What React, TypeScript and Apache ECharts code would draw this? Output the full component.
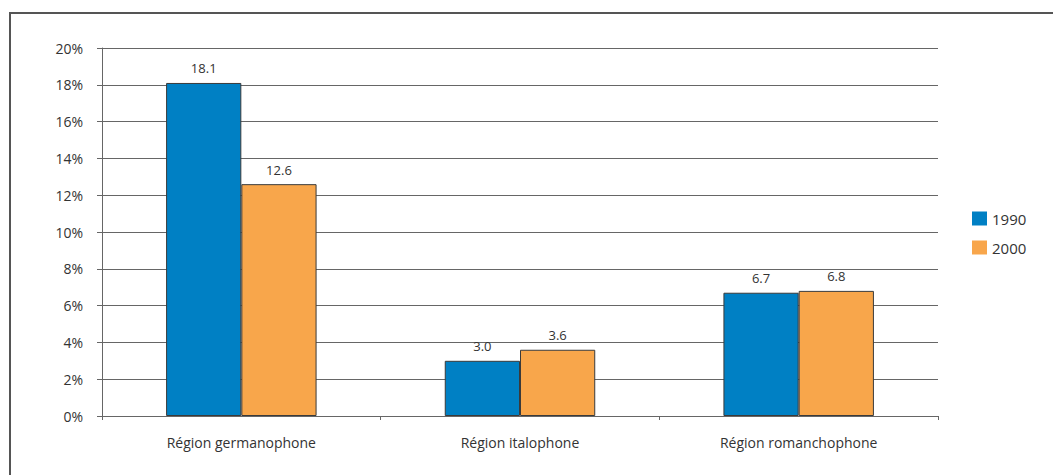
import React, { useEffect, useRef } from "react";
import * as echarts from "echarts";

const categories = ["Région germanophone", "Région italophone", "Région romanchophone"];
const series1990 = [18.1, 3.0, 6.7];
const series2000 = [12.6, 3.6, 6.8];
const seriesNames = ["1990", "2000"];

export default function App() {
  const ref = useRef<HTMLDivElement>(null);
  useEffect(() => {
    const chart = echarts.init(ref.current!, null, { renderer: "svg" });
    const font = "'Open Sans', 'Liberation Sans', sans-serif";
    const mkSeries = (name: string, data: number[], color: string) => ({
      name,
      type: "bar",
      data,
      barGap: "0%",
      barCategoryGap: "46%",
      itemStyle: { color, borderColor: "#3a3a3a", borderWidth: 1 },
      label: {
        show: true,
        position: "top",
        distance: 8,
        color: "#333",
        fontSize: 13,
        fontFamily: font,
        formatter: (p: any) => Number(p.value).toFixed(1),
      },
    });
    chart.setOption({
      animation: false,
      graphic: [
        {
          type: "rect",
          shape: { x: 10, y: 13, width: 1060, height: 500 },
          style: { fill: "none", stroke: "#555", lineWidth: 2 },
          silent: true,
        },
      ],
      grid: { left: 102, top: 48, width: 836, height: 368, containLabel: false },
      legend: {
        orient: "vertical",
        left: 967,
        top: 206,
        itemWidth: 15,
        itemHeight: 14,
        itemGap: 14,
        icon: "rect",
        itemStyle: { borderWidth: 0 },
        textStyle: { fontSize: 15, color: "#333", fontFamily: font },
        data: seriesNames,
      },
      xAxis: {
        type: "category",
        data: categories,
        axisLine: { lineStyle: { color: "#666", width: 1 } },
        axisTick: { show: true, alignWithLabel: false, length: 4, lineStyle: { color: "#666" } },
        axisLabel: { color: "#333", fontSize: 14, fontFamily: font, margin: 19 },
      },
      yAxis: {
        type: "value",
        min: 0,
        max: 20,
        interval: 2,
        axisLine: { show: true, lineStyle: { color: "#666" } },
        axisTick: { show: true, length: 5, lineStyle: { color: "#666" } },
        splitLine: { lineStyle: { color: "#666", width: 1 } },
        axisLabel: { color: "#333", fontSize: 14, fontFamily: font, margin: 19, formatter: "{value}%" },
      },
      series: [
        mkSeries(seriesNames[0], series1990, "#0080C4"),
        mkSeries(seriesNames[1], series2000, "#F8A64B"),
      ],
    });
    return () => chart.dispose();
  }, []);
  return (
    <div
      ref={ref}
      style={{ position: "absolute", left: 0, top: 0, width: 1053, height: 475, background: "#fff" }}
    />
  );
}
